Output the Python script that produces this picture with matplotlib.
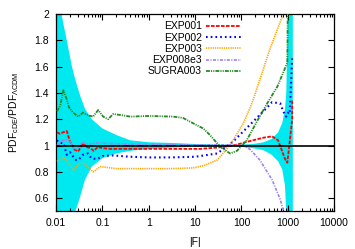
import matplotlib
matplotlib.use("Agg")
import matplotlib.pyplot as plt
from matplotlib.ticker import LogLocator, FixedLocator, NullFormatter, NullLocator

plt.rcParams['font.family'] = ['Liberation Sans', 'DejaVu Sans']
plt.rcParams['mathtext.fontset'] = 'custom'
plt.rcParams['mathtext.rm'] = 'Liberation Sans'
plt.rcParams['mathtext.it'] = 'Liberation Sans:italic'
plt.rcParams['lines.scale_dashes'] = False

# ---- data ----
band_F = [0.01, 0.013, 0.017, 0.022, 0.026, 0.033, 0.042, 0.059, 0.1, 0.2, 0.4, 1, 3, 10, 30, 60,
          100, 180, 300, 450, 620, 760, 870, 930, 1010, 1290]
band_hi = [3.0, 2.0, 1.8, 1.6, 1.5, 1.38, 1.28, 1.20, 1.13, 1.08, 1.04, 1.025, 1.02, 1.012, 1.008, 1.006,
           1.008, 1.012, 1.025, 1.05, 1.10, 1.17, 1.27, 1.40, 2.0, 3.0]
band_lo = [0.0, 0.2, 0.3, 0.42, 0.5, 0.61, 0.74, 0.84, 0.905, 0.94, 0.96, 0.975, 0.985, 0.99, 0.993, 0.995,
           0.99, 0.98, 0.965, 0.93, 0.88, 0.82, 0.70, 0.50, 0.2, 0.0]

exp001_F = [0.0104, 0.012, 0.014, 0.017, 0.02, 0.025, 0.03, 0.038, 0.045, 0.055, 0.065, 0.08, 0.1, 0.15,
            0.3, 1, 3, 13, 30, 66, 155, 300, 460, 620, 870, 980, 1080, 1250, 1250]
exp001_v = [1.10, 1.09, 1.10, 1.11, 1.03, 0.97, 0.955, 1.02, 0.99, 0.98, 0.96, 0.99, 0.98, 0.975,
            0.975, 0.975, 0.975, 0.975, 0.985, 1.0, 1.035, 1.06, 1.07, 1.04, 0.90, 0.87, 1.0, 1.2, 1.35]

exp002_F = [0.0104, 0.012, 0.0144, 0.017, 0.02, 0.023, 0.027, 0.03, 0.038, 0.049, 0.057, 0.065, 0.08, 0.1,
            0.17, 0.4, 1, 3, 10, 30, 66, 155, 360, 460, 690, 800, 920, 1000, 1100, 1250]
exp002_v = [1.04, 1.02, 1.02, 0.93, 0.95, 0.92, 0.89, 0.89, 0.93, 0.94, 0.905, 0.90, 0.90, 0.92,
            0.925, 0.915, 0.91, 0.91, 0.915, 0.94, 1.03, 1.16, 1.29, 1.33, 1.32, 1.26, 1.22, 1.25, 1.24, 1.67]

exp003_F = [0.0104, 0.012, 0.0144, 0.017, 0.02, 0.0233, 0.027, 0.03, 0.038, 0.045, 0.055, 0.063, 0.075,
            0.09, 0.12, 0.2, 0.5, 1, 3, 9, 16, 30, 50, 66, 110, 155, 180, 255, 410, 760, 1000]
exp003_v = [0.88, 0.89, 0.91, 0.89, 0.85, 0.81, 0.83, 0.86, 0.87, 0.85, 0.82, 0.80, 0.82,
            0.84, 0.835, 0.825, 0.825, 0.825, 0.825, 0.83, 0.85, 0.89, 0.98, 1.04, 1.17, 1.29, 1.35, 1.51,
            1.73, 1.98, 2.2]

exp008_F = [0.0104, 0.012, 0.014, 0.017, 0.02, 0.025, 0.03, 0.038, 0.05, 0.08, 0.15, 0.4, 1, 10, 50,
            110, 155, 250, 460, 690, 800, 850]
exp008_v = [1.0, 1.02, 1.04, 1.04, 1.03, 0.97, 0.99, 1.02, 1.01, 1.02, 1.015, 1.01, 1.01, 1.005, 1.005,
            1.0, 0.97, 0.89, 0.74, 0.59, 0.51, 0.45]

sugra_F = [0.0104, 0.0122, 0.0144, 0.017, 0.019, 0.0233, 0.03, 0.038, 0.049, 0.063, 0.081, 0.104, 0.133,
           0.17, 0.27, 0.4, 1, 3.4, 5.5, 9, 15, 21, 35, 57, 80, 130, 230, 360, 600, 980, 1000, 1010]
sugra_v = [1.26, 1.30, 1.42, 1.35, 1.29, 1.25, 1.22, 1.25, 1.23, 1.22, 1.27, 1.22, 1.20,
           1.24, 1.23, 1.22, 1.225, 1.22, 1.21, 1.17, 1.13, 1.08, 0.99, 0.94, 0.96, 1.04, 1.2, 1.32,
           1.45, 1.63, 2.0, 2.2]

labels = ["EXP001", "EXP002", "EXP003", "EXP008e3", "SUGRA003"]
xticks = [0.01, 0.1, 1, 10, 100, 1000, 10000]
xticklabels = ["0.01", "0.1", "1", "10", "100", "1000", "10000"]
yticks = [0.6, 0.8, 1.0, 1.2, 1.4, 1.6, 1.8, 2.0]
yticklabels = ["0.6", "0.8", "1", "1.2", "1.4", "1.6", "1.8", "2"]

# ---- figure ----
fig = plt.figure(figsize=(3.55, 2.49), dpi=100)
ax = fig.add_axes([0.158, 0.151, 0.783, 0.793])

ax.fill_between(band_F, band_lo, band_hi, color='#00e8f0', lw=0, zorder=1)

ax.plot(exp001_F, exp001_v, color='#ff0000', lw=1.3, dashes=(2.6, 1.0), label=labels[0], zorder=3)
ax.plot(exp002_F, exp002_v, color='#0000ff', lw=1.5, dashes=(1.2, 2.2), label=labels[1], zorder=3)
ax.plot(exp003_F, exp003_v, color='#ffa500', lw=1.2, dashes=(0.9, 0.7), label=labels[2], zorder=3)
ax.plot(exp008_F, exp008_v, color='#a080f0', lw=1.2, dashes=(2.2, 1.0, 0.8, 1.0), label=labels[3], zorder=3)
ax.plot(sugra_F, sugra_v, color='#228b22', lw=1.3, dashes=(2.8, 0.8, 0.8, 0.8, 0.8, 0.8), label=labels[4], zorder=3)

ax.axhline(1.0, color='black', lw=1.2, zorder=4)

ax.set_xscale('log')
ax.set_xlim(0.01, 10000)
ax.set_ylim(0.5, 2.0)

ax.xaxis.set_major_locator(FixedLocator(xticks))
ax.set_xticklabels(xticklabels)
ax.xaxis.set_minor_locator(LogLocator(base=10, subs=range(2, 10), numticks=20))
ax.xaxis.set_minor_formatter(NullFormatter())
ax.yaxis.set_major_locator(FixedLocator(yticks))
ax.set_yticklabels(yticklabels)
ax.yaxis.set_minor_locator(NullLocator())

ax.tick_params(which='both', direction='in', top=True, right=True, labelsize=7.5, width=0.8, colors='black')
ax.tick_params(which='major', length=4, pad=5)
ax.tick_params(which='minor', length=2)
for s in ax.spines.values():
    s.set_linewidth(0.9)

ax.set_xlabel('|F|', fontsize=7.5, labelpad=6)
ax.set_ylabel(r'PDF$_{\rm cDE}$/PDF$_{\Lambda\rm CDM}$', fontsize=7.5, labelpad=10)

leg = ax.legend(loc='upper right', bbox_to_anchor=(0.665, 0.962), frameon=False, fontsize=7.5,
                markerfirst=False, handlelength=3.4, handletextpad=0.35, labelspacing=0.12,
                borderaxespad=0, borderpad=0)

fig.savefig('out.png', dpi=100)
